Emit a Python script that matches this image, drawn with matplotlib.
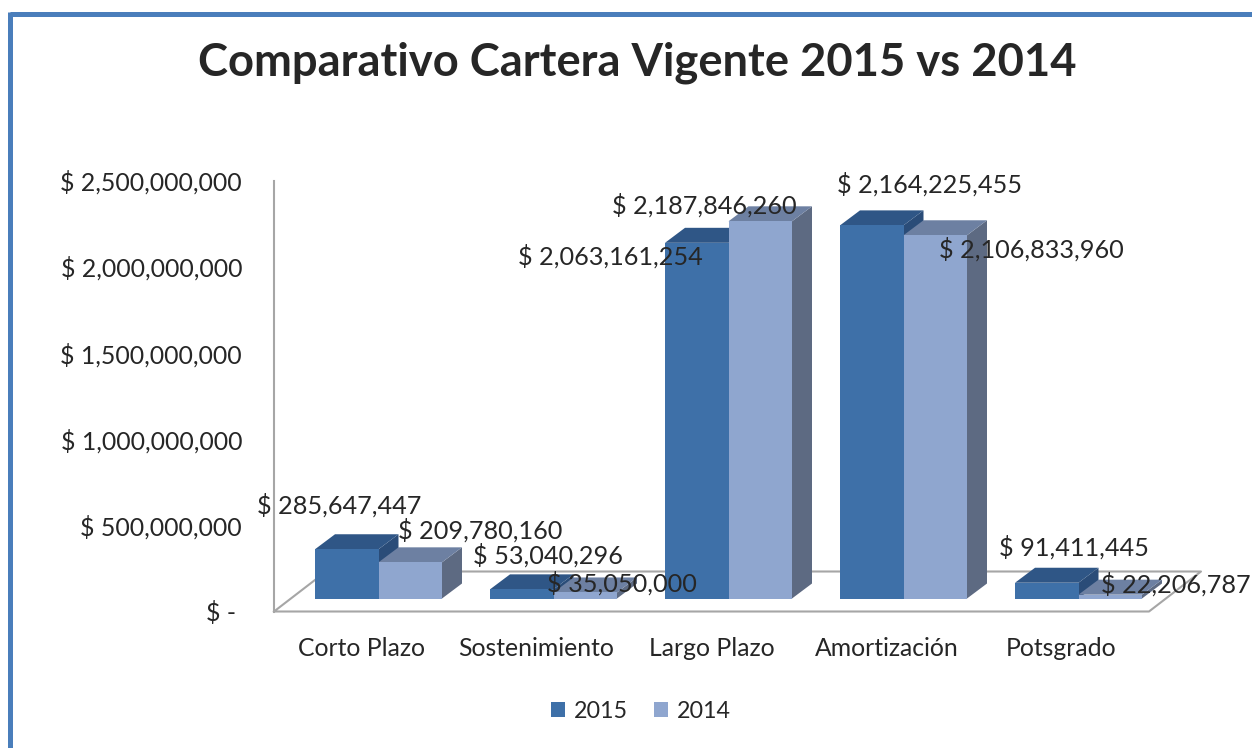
import matplotlib
matplotlib.use("Agg")
import matplotlib.pyplot as plt
from matplotlib.patches import Polygon, Patch
from matplotlib.lines import Line2D
from matplotlib.transforms import Affine2D, IdentityTransform

# ---------------- data ----------------
categories = ["Corto Plazo", "Sostenimiento", "Largo Plazo", "Amortización", "Potsgrado"]
series_names = ["2015", "2014"]
values_2015 = [285647447, 53040296, 2063161254, 2164225455, 91411445]
values_2014 = [209780160, 35050000, 2187846260, 2106833960, 22206787]
y_ticks = [0, 500000000, 1000000000, 1500000000, 2000000000, 2500000000]
y_tick_labels = ["$ - ", "$ 500,000,000", "$ 1,000,000,000", "$ 1,500,000,000",
                 "$ 2,000,000,000", "$ 2,500,000,000"]
title = "Comparativo Cartera Vigente 2015 vs 2014"

# ---------------- style ----------------
FONT = "Lato"
TXT = "#262626"
front_cols = ["#3E70A8", "#8FA6CF"]
top_cols = ["#2F5686", "#6D80A2"]
side_cols = ["#2A4C78", "#5D6A82"]
floor_col = "#A6A6A6"
border_col = "#4A7EBB"

W, H, DPI = 1252, 748, 100
fig = plt.figure(figsize=(W / DPI, H / DPI), dpi=DPI)
fig.patch.set_facecolor("white")

# axes frame = front plane of the 3D box
ax_l, ax_r, ax_top, ax_bot = 274, 1149, 180.5, 611.5
ax = fig.add_axes([ax_l / W, 1 - ax_bot / H, (ax_r - ax_l) / W, (ax_bot - ax_top) / H])
ax.set_xlim(-0.5, len(categories) - 0.5)
ax.set_ylim(0, 2500000000)
for s in ["top", "right", "bottom"]:
    ax.spines[s].set_visible(False)
ax.spines["left"].set_color(floor_col)
ax.spines["left"].set_linewidth(1.5)
ax.set_facecolor("none")

renderer = fig.canvas.get_renderer()


def fit_size(s, target_px, weight="normal"):
    t = fig.text(0, 0, s, fontsize=20, fontweight=weight, family=FONT)
    w = t.get_window_extent(renderer).width
    t.remove()
    return 20 * target_px / w


fs_tick = fit_size("$ 2,500,000,000", 182)
fs_cat = fit_size("Corto Plazo", 127)
fs_lab = fit_size("$ 285,647,447", 165)
fs_leg = fit_size("2015", 54)
fs_title = fit_size(title, 880, "bold")

ax.set_yticks(y_ticks)
ax.set_yticklabels(y_tick_labels, fontsize=fs_tick, family=FONT, color=TXT)
ax.set_xticks(range(len(categories)))
ax.set_xticklabels(categories, fontsize=fs_cat, family=FONT, color=TXT)
ax.tick_params(axis="y", length=0, pad=23)
ax.tick_params(axis="x", length=0, pad=18)

# 3D geometry in pixels
floor_dx, floor_dy = 52, 40        # full depth of floor
front_dx, front_dy = 17, 13        # bars' front plane offset
bar_dx, bar_dy = 20, 15            # bar depth
bar_w = 63.5 / 175.0               # in category units

T = ax.transData
ID = IdentityTransform()


def disp(x, y):
    return T.transform((x, y))


# floor outline
p0 = disp(-0.5, 0)
p1 = disp(len(categories) - 0.5, 0)
pts = [p0, p1, (p1[0] + floor_dx, p1[1] + floor_dy), (p0[0] + floor_dx, p0[1] + floor_dy), p0]
ax.add_line(Line2D([p[0] for p in pts], [p[1] for p in pts], transform=ID,
                   color=floor_col, lw=1.5, zorder=1, clip_on=False))

front_shift = T + Affine2D().translate(front_dx, front_dy)
z = 3
all_vals = [values_2015, values_2014]
label_offsets = [
    [(-8, 44), (26, 34), (-86, -14), (58, 41), (27, 35)],
    [(70, 32), (37, 9), (-56, 16), (96, -14), (66, 10)],
]
label_pts = []
for i in range(len(categories)):
    for j in range(2):
        v = all_vals[j][i]
        x0 = i - bar_w + j * bar_w
        bars = ax.bar(x0, v, width=bar_w, align="edge", color=front_cols[j], edgecolor="none",
                      transform=front_shift, zorder=z + 0.3)
        for b in bars:
            b.set_clip_on(False)
        tl = disp(x0, v)
        tl = (tl[0] + front_dx, tl[1] + front_dy)
        tr = disp(x0 + bar_w, v)
        tr = (tr[0] + front_dx, tr[1] + front_dy)
        br = disp(x0 + bar_w, 0)
        br = (br[0] + front_dx, br[1] + front_dy)
        top = [tl, tr, (tr[0] + bar_dx, tr[1] + bar_dy), (tl[0] + bar_dx, tl[1] + bar_dy)]
        side = [br, tr, (tr[0] + bar_dx, tr[1] + bar_dy), (br[0] + bar_dx, br[1] + bar_dy)]
        ax.add_patch(Polygon(side, closed=True, transform=ID, facecolor=side_cols[j],
                             edgecolor="none", zorder=z + 0.1, clip_on=False))
        ax.add_patch(Polygon(top, closed=True, transform=ID, facecolor=top_cols[j],
                             edgecolor="none", zorder=z + 0.2, clip_on=False))
        z += 1
        label_pts.append((i, j, v, ((tl[0] + tr[0]) / 2, tl[1])))

# data labels
for i, j, v, (px, py) in label_pts:
    dx, dy = label_offsets[j][i]
    fig.text((px + dx) / W, (py + dy) / H, "$ {:,}".format(v), fontsize=fs_lab, family=FONT,
             color=TXT, ha="center", va="center", zorder=50)

# title
fig.text(637 / W, 1 - 76 / H, title, fontsize=fs_title, fontweight="bold", family=FONT,
         color=TXT, ha="center", va="baseline")

# legend
handles = [Patch(facecolor=front_cols[k], edgecolor="none", label=series_names[k]) for k in range(2)]
fig.legend(handles=handles, loc="center", bbox_to_anchor=(641 / W, 1 - 711 / H), ncol=2,
           frameon=False, prop={"family": FONT, "size": fs_leg}, handlelength=0.6,
           handleheight=0.6, handletextpad=0.4, columnspacing=1.1, labelcolor=TXT)

# outer border (top and left edges of the chart area)
fig.add_artist(Line2D([9.5, W], [H - 14, H - 14], transform=ID,
                      color=border_col, lw=3.6, solid_capstyle="butt"))
fig.add_artist(Line2D([9.5, 9.5], [H - 12, 0], transform=ID,
                      color=border_col, lw=3.6, solid_capstyle="butt"))

fig.savefig("out.png", dpi=DPI)
